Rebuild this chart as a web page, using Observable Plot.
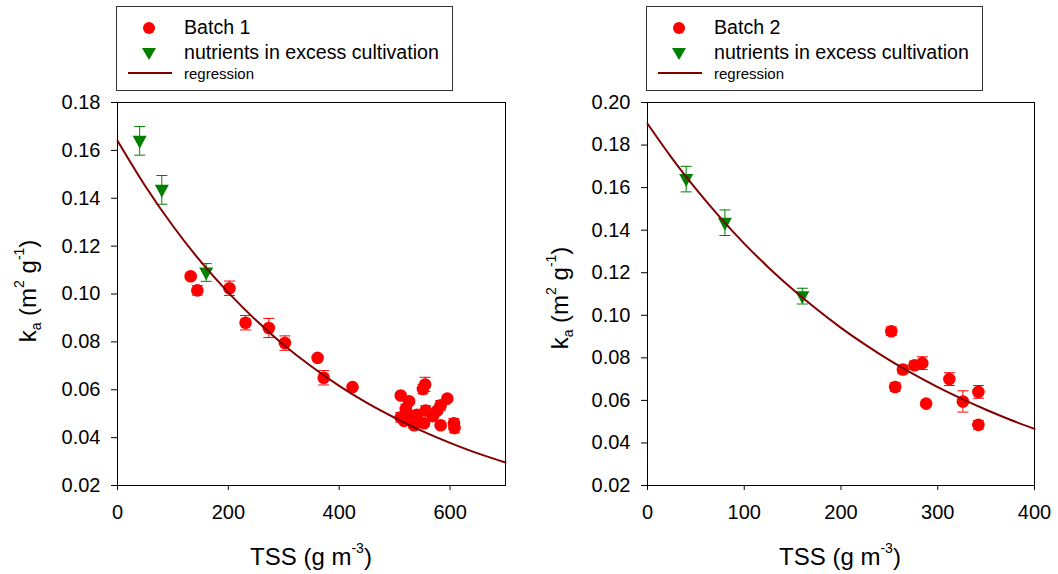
<!DOCTYPE html>
<html>
<head>
<meta charset="utf-8">
<script src="https://cdn.jsdelivr.net/npm/d3@7"></script>
<script src="https://cdn.jsdelivr.net/npm/@observablehq/plot@0.6"></script>
<style>
  html, body { margin: 0; padding: 0; background: #fff; }
  #root { position: relative; width: 1058px; height: 574px; font-family: "Liberation Sans", Arial, sans-serif; color: #000; }
  .panel { position: absolute; top: 0; }
  .legend { position: absolute; top: 6px; height: 85px; border: 1px solid #333; background: #fff; box-sizing: border-box; }
  .legend svg { position: absolute; left: 0; top: 0; overflow: visible; }
  .ltext { position: absolute; white-space: nowrap; line-height: 1; transform: translateY(-50%); }
  .xtitle { position: absolute; font-size: 24px; white-space: nowrap; transform: translate(-50%, -100%); line-height: 1; }
  .ytitle { position: absolute; font-size: 24px; white-space: nowrap; transform: translate(-50%, -50%) rotate(-90deg); line-height: 1; }
  .sup { font-size: 14px; position: relative; top: -0.85em; }
  .sub { font-size: 14px; position: relative; top: 0.35em; }
</style>
</head>
<body>
<div id="root"></div>
<script>
// ---------- data ----------
const nutrientX   = [40, 80, 160];
const nutrientY   = [0.164, 0.1435, 0.109];
const nutrientErr = [0.006, 0.006, 0.0037];

const batch1X   = [132, 144, 202, 231, 273, 302, 361, 372, 424, 511, 526, 551, 555, 595, 583, 577, 556, 520, 511, 529, 517, 535, 553, 583, 569, 607, 608, 524, 540];
const batch1Y   = [0.1074, 0.1015, 0.1024, 0.0880, 0.0858, 0.0795, 0.0733, 0.0650, 0.0611, 0.0576, 0.0552, 0.0603, 0.0622, 0.0563, 0.0535, 0.0513, 0.0513, 0.0520, 0.0485, 0.0492, 0.0470, 0.0452, 0.0460, 0.0452, 0.0490, 0.0460, 0.0440, 0.0480, 0.0495];
const batch1Err = [0.001, 0.002, 0.003, 0.003, 0.004, 0.003, 0.001, 0.003, 0.001, 0.001, 0.001, 0.002, 0.003, 0.001, 0.002, 0.001, 0.002, 0.002, 0.002, 0.002, 0.001, 0.001, 0.001, 0.001, 0.001, 0.002, 0.002, 0.002, 0.001];

const batch2X   = [252, 256, 264, 276, 284, 288, 312, 326, 342, 342];
const batch2Y   = [0.0925, 0.0663, 0.0745, 0.0765, 0.0775, 0.0585, 0.0700, 0.0595, 0.0640, 0.0485];
const batch2Err = [0.002, 0.002, 0.002, 0.002, 0.003, 0.001, 0.003, 0.005, 0.003, 0.002];

// regression curves
const reg1X = [0, 50, 100, 150, 200, 250, 300, 350, 400, 450, 500, 550, 600, 650, 700];
const reg1Y = [0.1640, 0.1451, 0.1284, 0.1136, 0.1006, 0.0890, 0.0787, 0.0697, 0.0616, 0.0545, 0.0483, 0.0427, 0.0378, 0.0334, 0.0296];
const reg2X = [0, 25, 50, 75, 100, 125, 150, 175, 200, 225, 250, 275, 300, 325, 350, 375, 400];
const reg2Y = [0.1900, 0.1740, 0.1594, 0.1460, 0.1337, 0.1225, 0.1122, 0.1028, 0.0941, 0.0862, 0.0789, 0.0723, 0.0662, 0.0607, 0.0556, 0.0509, 0.0466];

const xTicks1 = [0, 200, 400, 600];
const xTicks2 = [0, 100, 200, 300, 400];
const yTicks1 = [0.02, 0.04, 0.06, 0.08, 0.10, 0.12, 0.14, 0.16, 0.18];
const yTicks2 = [0.02, 0.04, 0.06, 0.08, 0.10, 0.12, 0.14, 0.16, 0.18, 0.20];

// ---------- helpers ----------
const zipPts = (xs, ys, es) => xs.map((x, i) => ({x, y: ys[i], e: es ? es[i] : 0}));
const nutrient = zipPts(nutrientX, nutrientY, nutrientErr);
const batch1 = zipPts(batch1X, batch1Y, batch1Err);
const batch2 = zipPts(batch2X, batch2Y, batch2Err);
const reg1 = zipPts(reg1X, reg1Y);
const reg2 = zipPts(reg2X, reg2Y);

const RED = "#ff0000", GREEN = "#008000", DARKRED = "#800000";
const triDown = {draw(ctx) { ctx.moveTo(-7, -5); ctx.lineTo(7, -5); ctx.lineTo(0, 8); ctx.closePath(); }};
const capSym = {draw(ctx) { ctx.moveTo(-5.5, 0); ctx.lineTo(5.5, 0); }};

function errMarks(data, color) {
  return [
    Plot.ruleX(data, {x: "x", y1: d => d.y - d.e, y2: d => d.y + d.e, stroke: color, strokeWidth: 1}),
    Plot.dot(data, {x: "x", y: d => d.y + d.e, symbol: capSym, stroke: color, fill: "none", strokeWidth: 1}),
    Plot.dot(data, {x: "x", y: d => d.y - d.e, symbol: capSym, stroke: color, fill: "none", strokeWidth: 1})
  ];
}

function panel({xDomain, yDomain, xTicks, yTicks, pts, reg, marginLeft}) {
  return Plot.plot({
    width: 529, height: 574,
    marginLeft, marginRight: 24, marginTop: 102, marginBottom: 89,
    style: {fontFamily: '"Liberation Sans", Arial, sans-serif', fontSize: "20px", color: "#000", background: "transparent", overflow: "visible"},
    x: {domain: xDomain},
    y: {domain: yDomain},
    marks: [
      Plot.frame({stroke: "#000", strokeWidth: 1}),
      Plot.axisX({ticks: xTicks, tickSize: 5, tickPadding: 14, tickFormat: d3.format("d"), label: null, fontSize: 20, stroke: "#000"}),
      Plot.axisY({ticks: yTicks, tickSize: 6, tickPadding: 11, tickFormat: d3.format(".2f"), label: null, fontSize: 20, stroke: "#000"}),
      ...errMarks(nutrient, GREEN),
      ...errMarks(pts, RED),
      Plot.dot(nutrient, {x: "x", y: "y", symbol: triDown, fill: GREEN, stroke: "none"}),
      Plot.dot(pts, {x: "x", y: "y", r: 6.3, fill: RED, stroke: "none"}),
      Plot.line(reg, {x: "x", y: "y", stroke: DARKRED, strokeWidth: 2, curve: "natural"})
    ]
  });
}

const root = document.getElementById("root");

function addPanel(left, opts) {
  const wrap = document.createElement("div");
  wrap.className = "panel";
  wrap.style.left = left + "px";
  wrap.appendChild(panel(opts));
  root.appendChild(wrap);
}

addPanel(0, {xDomain: [0, 700], yDomain: [0.02, 0.18], xTicks: xTicks1, yTicks: yTicks1, pts: batch1, reg: reg1, marginLeft: 117});
addPanel(529, {xDomain: [0, 400], yDomain: [0.02, 0.20], xTicks: xTicks2, yTicks: yTicks2, pts: batch2, reg: reg2, marginLeft: 118});

function addLegend(left, width, batchLabel) {
  const box = document.createElement("div");
  box.className = "legend";
  box.style.left = left + "px";
  box.style.width = width + "px";
  box.innerHTML = `
    <svg width="${width}" height="85">
      <circle cx="32" cy="21" r="6" fill="${RED}"></circle>
      <path d="M25,41 L39,41 L32,53 Z" fill="${GREEN}"></path>
      <line x1="11" x2="55" y1="66" y2="66" stroke="${DARKRED}" stroke-width="2"></line>
    </svg>
    <div class="ltext" style="left:67px;top:21px;font-size:19.6px;">${batchLabel}</div>
    <div class="ltext" style="left:67px;top:46px;font-size:19.6px;">nutrients in excess cultivation</div>
    <div class="ltext" style="left:67px;top:66px;font-size:15px;">regression</div>`;
  root.appendChild(box);
}
addLegend(116, 337, "Batch 1");
addLegend(646, 337, "Batch 2");

function addTitles(cx, cy, yx, yy) {
  const xt = document.createElement("div");
  xt.className = "xtitle";
  xt.style.left = cx + "px";
  xt.style.top = cy + "px";
  xt.innerHTML = 'TSS (g m<span class="sup">-3</span>)';
  root.appendChild(xt);
  const yt = document.createElement("div");
  yt.className = "ytitle";
  yt.style.left = yx + "px";
  yt.style.top = yy + "px";
  yt.innerHTML = 'k<span class="sub">a</span> (m<span class="sup">2</span> g<span class="sup">-1</span>)';
  root.appendChild(yt);
}
addTitles(311, 569, 28, 291);
addTitles(840, 569, 560, 298);
</script>
</body>
</html>
